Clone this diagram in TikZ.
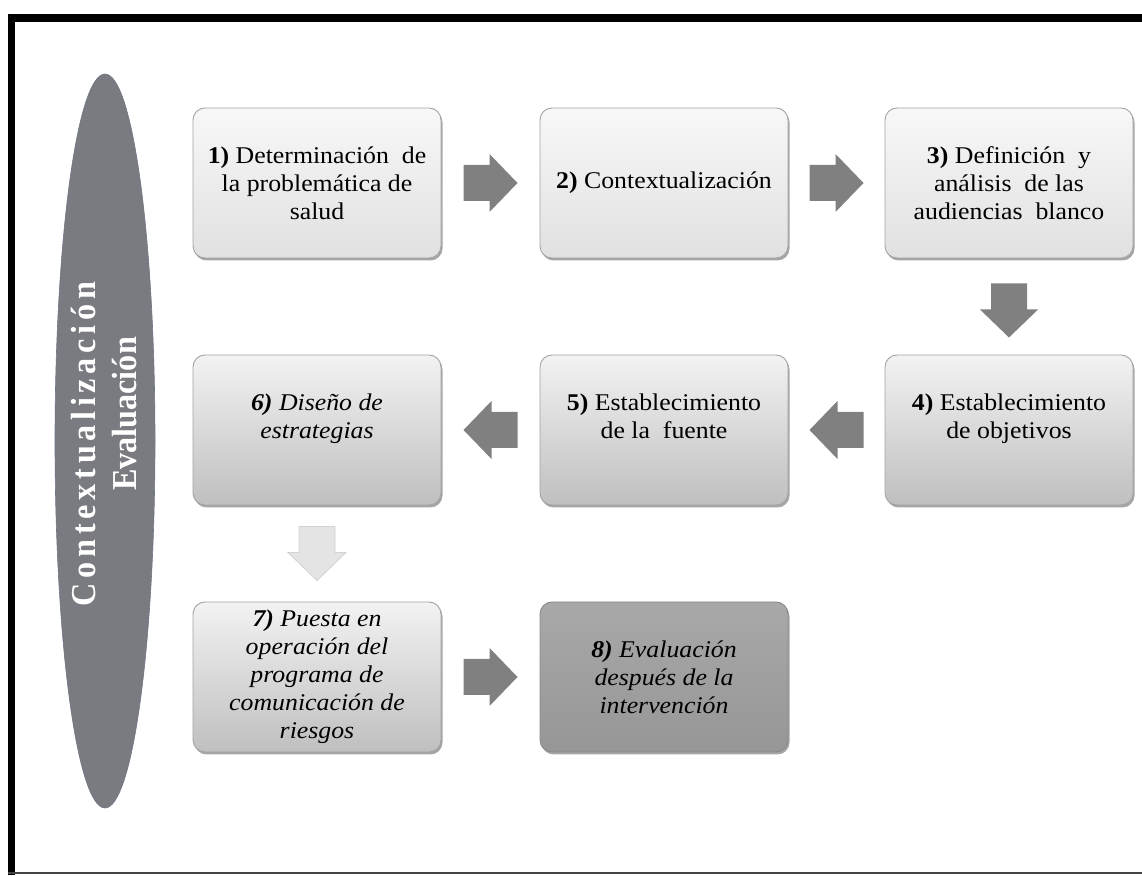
\documentclass[tikz,border=0pt]{standalone}
\usepackage{fontspec}
\setmainfont{Liberation Serif}
\newfontfamily\boxfont[FakeStretch=1.075]{Liberation Serif}
\newfontfamily\ellfont[FakeStretch=0.92, LetterSpace=13.5]{Liberation Serif}
\newfontfamily\ellfontb[FakeStretch=0.92]{Liberation Serif}
\usetikzlibrary{shadows,calc,shapes.geometric}
\definecolor{arrgray}{HTML}{808080}
\definecolor{boxedge}{HTML}{A3A3A3}
\definecolor{darkedge}{HTML}{8A8A8A}
\definecolor{ellgray}{HTML}{7A7B80}
\definecolor{elledge}{HTML}{6E7685}
\definecolor{lightarrfill}{HTML}{E4E4E4}
\definecolor{lightarredge}{HTML}{D2D2D2}
\definecolor{framegray}{HTML}{454545}
\tikzset{
  boxbase/.style={rounded corners=12pt, minimum width=248pt, minimum height=150pt,
    line width=0.9pt, align=center, inner sep=0pt, text=black,
    font=\boxfont\fontsize{24}{28}\selectfont,
    drop shadow={shadow xshift=1.5pt, shadow yshift=-2.5pt, opacity=0.35, fill=black}},
  lightbox/.style={boxbase, draw=boxedge, top color=black!3, bottom color=black!12},
  midbox/.style={boxbase, draw=boxedge, top color=black!5, bottom color=black!25},
  darkbox/.style={boxbase, draw=darkedge, top color=black!34, bottom color=black!41},
  ital/.style={font=\boxfont\fontsize{24}{28}\selectfont\itshape},
  arrowshape/.pic={\path[pic actions] (-27,-18) -- (-1,-18) -- (-1,-29) -- (27,0)
      -- (-1,29) -- (-1,18) -- (-27,18) -- cycle;},
  darkarr/.style={fill=arrgray},
  lightarr/.style={fill=lightarrfill, draw=lightarredge, line width=0.8pt},
  elltext/.style={rotate=90, anchor=base, text=white, inner sep=0pt,
    font=\ellfont\bfseries\fontsize{35}{38}\selectfont}
}
\begin{document}
\begin{tikzpicture}[x=1pt,y=1pt]
\useasboundingbox (0,0) rectangle (1142,875);
\fill[white] (0,0) rectangle (1142,875);
% frame
\fill[black] (8,0) rectangle (15,861);
\fill[black] (8,853) rectangle (1142,861);
\fill[framegray] (8,1) rectangle (1142,3);
% ellipse
\node[ellipse, fill=ellgray, draw=elledge, line width=0.6pt, minimum width=100pt,
  minimum height=734pt, inner sep=0pt] (ell) at (105,434) {};
\node[elltext] (ctx) at (95,431) {Contextualización};
\node[elltext, font=\ellfontb\bfseries\fontsize{35}{38}\selectfont] (evl) at (136,461) {Evaluación};
% boxes
\node[lightbox] (b1) at (317,692) {\textbf{1)} Determinación\ \ de\\la problemática de\\salud};
\node[lightbox] (b2) at (664,692) {\textbf{2)} Contextualización};
\node[lightbox] (b3) at (1009,692) {\textbf{3)} Definición\ \ y\\análisis\ \ de las\\audiencias\ \ blanco};
\node[midbox] (b4) at (1009,445) {\textbf{4)} Establecimiento\\de objetivos\\~};
\node[midbox] (b5) at (664,445) {\textbf{5)} Establecimiento\\de la\ \ fuente\\~};
\node[midbox, ital] (b6) at (317,445) {\textbf{6)} Diseño de\\estrategias\\~};
\node[midbox, ital] (b7) at (317,198) {\textbf{7)} Puesta en\\operación del\\programa de\\comunicación de\\riesgos};
\node[darkbox, ital] (b8) at (664,198) {\textbf{8)} Evaluación\\después de la\\intervención};
% arrows
\pic[darkarr] at ($(b1.east)!0.5!(b2.west)$) {arrowshape};
\pic[darkarr] at ($(b2.east)!0.5!(b3.west)$) {arrowshape};
\pic[darkarr, rotate=-90] at ($(b3.south)!0.5!(b4.north)+(0,-4)$) {arrowshape};
\pic[darkarr, rotate=180] at ($(b4.west)!0.5!(b5.east)$) {arrowshape};
\pic[darkarr, rotate=180] at ($(b5.west)!0.5!(b6.east)$) {arrowshape};
\pic[lightarr, rotate=-90] at ($(b6.south)!0.5!(b7.north)$) {arrowshape};
\pic[darkarr] at ($(b7.east)!0.5!(b8.west)$) {arrowshape};
\end{tikzpicture}
\end{document}
